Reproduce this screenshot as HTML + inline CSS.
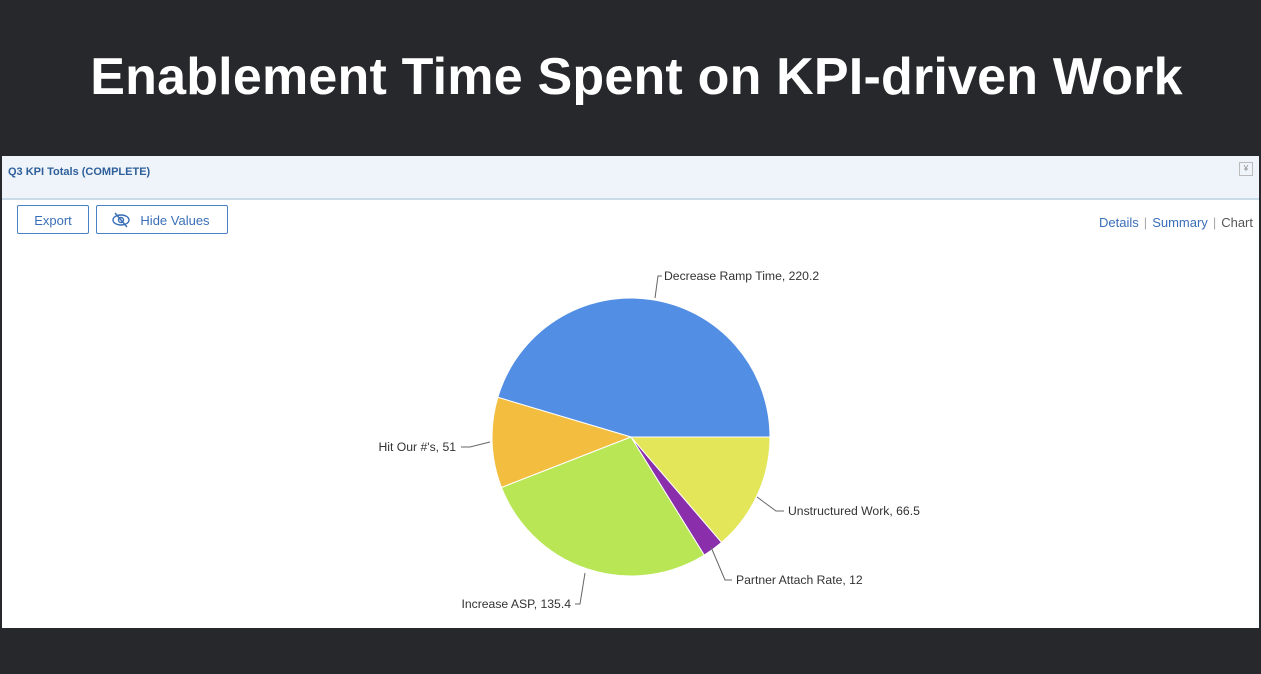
<!DOCTYPE html>
<html><head><style>
body{margin:0;width:1261px;height:674px;background:#27282c;font-family:"Liberation Sans",sans-serif;overflow:hidden;position:relative}
.title{position:absolute;top:47px;left:0;width:1261px;text-align:center;color:#fff;font-size:52px;font-weight:bold;letter-spacing:0.2px;padding-left:12px;box-sizing:border-box}
.panel{position:absolute;left:2px;top:156px;width:1257px;height:472px;background:#fff}
.hdr{height:42px;background:#eef4fa;border-bottom:2px solid #c9dbe9;position:relative}
.hdr span{position:absolute;left:6px;top:10px;font-size:11px;font-weight:bold;color:#2e5f9a}
.btn{position:absolute;top:49px;height:29px;border:1px solid #4a80c4;border-radius:2px;color:#3a6fb8;font-size:13px;line-height:29px;text-align:center;box-sizing:border-box}
.nav{position:absolute;right:6px;top:59px;font-size:13px;color:#3a6fb8}
.nav i{font-style:normal;color:#aaa;margin:0 5px}
</style></head><body>
<div class="title">Enablement Time Spent on KPI-driven Work</div>
<div class="panel">
<div class="hdr"><span>Q3 KPI Totals (COMPLETE)</span>
<div style="position:absolute;right:6px;top:6px;width:12px;height:12px;border:1px solid #bbb;font-size:8px;color:#888;text-align:center;line-height:12px">¥</div></div>
<div class="btn" style="left:15px;width:72px">Export</div>
<div class="btn" style="left:94px;width:132px;padding-left:26px">Hide Values
<svg style="position:absolute;left:14px;top:6px" width="20" height="16"><ellipse cx="10" cy="8" rx="8" ry="5" fill="none" stroke="#3a6fb8" stroke-width="1.4"/><circle cx="10" cy="8" r="2.5" fill="none" stroke="#3a6fb8" stroke-width="1.4"/><line x1="4" y1="1" x2="16" y2="15" stroke="#3a6fb8" stroke-width="1.4"/></svg></div>
<div class="nav">Details<i>|</i>Summary<i>|</i><span style="color:#555">Chart</span></div>
</div>
<svg style="position:absolute;left:0;top:0" width="1261" height="674" font-family="Liberation Sans, sans-serif" font-size="12.2" fill="#333">
<g stroke="#fff" stroke-width="1">
<path d="M631,437 L770,437 A139,139 0 0 0 497.8,397.3 Z" fill="#528ee3"/>
<path d="M631,437 L497.8,397.3 A139,139 0 0 0 501.5,487.5 Z" fill="#f3bd3f"/>
<path d="M631,437 L501.5,487.5 A139,139 0 0 0 704.3,555.1 Z" fill="#b8e655"/>
<path d="M631,437 L704.3,555.1 A139,139 0 0 0 721.6,542.4 Z" fill="#8a2eab"/>
<path d="M631,437 L721.6,542.4 A139,139 0 0 0 770,437 Z" fill="#e4e659"/>
</g>
<g stroke="#666" fill="none" stroke-width="1">
<path d="M655,298 L658,276 L662,276"/>
<path d="M490,442 L470,447 L461,447"/>
<path d="M757,497 L776,511 L784,511"/>
<path d="M711,547 L725,580 L732,580"/>
<path d="M585,573 L580,604 L575,604"/>
</g>
<text x="664" y="280">Decrease Ramp Time, 220.2</text>
<text x="456" y="451" text-anchor="end">Hit Our #'s, 51</text>
<text x="788" y="515">Unstructured Work, 66.5</text>
<text x="736" y="584">Partner Attach Rate, 12</text>
<text x="571" y="608" text-anchor="end">Increase ASP, 135.4</text>
</svg>
</body></html>
